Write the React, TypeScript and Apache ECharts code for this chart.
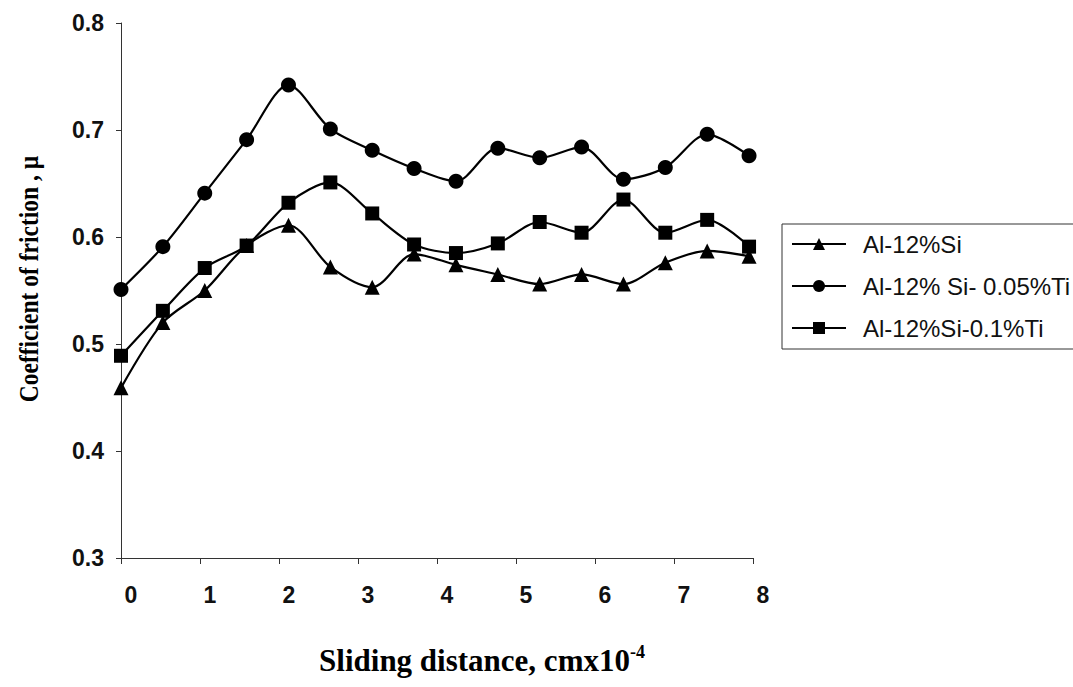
import React, { useEffect, useRef } from "react";
import * as echarts from "echarts";

const xValues = [0, 0.53, 1.06, 1.59, 2.12, 2.65, 3.18, 3.71, 4.24, 4.77, 5.3, 5.83, 6.36, 6.89, 7.42, 7.95];
const seriesNames = ["Al-12%Si", "Al-12% Si- 0.05%Ti", "Al-12%Si-0.1%Ti"];
const alSi = [0.459, 0.52, 0.55, 0.592, 0.611, 0.572, 0.553, 0.584, 0.574, 0.565, 0.556, 0.565, 0.556, 0.576, 0.587, 0.582];
const alSiTi005 = [0.551, 0.591, 0.641, 0.691, 0.742, 0.701, 0.681, 0.664, 0.652, 0.683, 0.674, 0.684, 0.654, 0.665, 0.696, 0.676];
const alSiTi01 = [0.489, 0.531, 0.571, 0.592, 0.632, 0.651, 0.622, 0.593, 0.585, 0.594, 0.614, 0.604, 0.635, 0.604, 0.616, 0.591];
const yTicks = [0.3, 0.4, 0.5, 0.6, 0.7, 0.8];
const xTicks = [0, 1, 2, 3, 4, 5, 6, 7, 8];

const yTitle = "Coefficient of friction , µ";
const xTitle = "Sliding distance, cmx10";
const xTitleSup = "-4";

export default function App() {
  const ref = useRef<HTMLDivElement>(null);
  useEffect(() => {
    if (!ref.current) return;
    const chart = echarts.init(ref.current, null, { renderer: "svg" });
    const pair = (ys: number[]) => ys.map((y, i) => [xValues[i], y]);
    const symbols = ["triangle", "circle", "rect"];
    const sizes = [15, 15, 14];
    const datasets = [alSi, alSiTi005, alSiTi01];
    chart.setOption({
      animation: false,
      backgroundColor: "#fff",
      grid: { left: 121, right: 320, top: 23, bottom: 129, containLabel: false },
      xAxis: {
        type: "value",
        min: xTicks[0],
        max: xTicks[xTicks.length - 1],
        interval: 1,
        axisLine: { show: true, lineStyle: { color: "#333", width: 1 } },
        axisTick: { show: true, length: 6, lineStyle: { color: "#333" } },
        splitLine: { show: false },
        axisLabel: {
          margin: 25,
          padding: [0, 0, 0, 20],
          fontFamily: "Liberation Sans, Arial, sans-serif",
          fontSize: 23,
          fontWeight: "bold",
          color: "#111",
        },
      },
      yAxis: {
        type: "value",
        min: yTicks[0],
        max: yTicks[yTicks.length - 1],
        interval: 0.1,
        axisLine: { show: true, lineStyle: { color: "#333", width: 1 } },
        axisTick: { show: true, length: 5, lineStyle: { color: "#333" } },
        splitLine: { show: false },
        axisLabel: {
          margin: 17,
          formatter: (v: number) => v.toFixed(1),
          fontFamily: "Liberation Sans, Arial, sans-serif",
          fontSize: 23,
          fontWeight: "bold",
          color: "#111",
        },
      },
      legend: {
        show: true,
        orient: "vertical",
        left: 782,
        top: 224,
        padding: [8, 60, 9, 9],
        itemGap: 18,
        itemWidth: 54,
        itemHeight: 15,
        borderColor: "#333",
        borderWidth: 1,
        textStyle: {
          fontFamily: "Liberation Sans, Arial, sans-serif",
          fontSize: 24,
          lineHeight: 22,
          color: "#111",
          padding: [0, 0, 0, 12],
        },
        data: seriesNames,
      },
      series: datasets.map((d, i) => ({
        name: seriesNames[i],
        type: "line",
        data: pair(d),
        smooth: 0.3,
        symbol: symbols[i],
        symbolSize: sizes[i],
        showSymbol: true,
        lineStyle: { color: "#000", width: 2.2 },
        itemStyle: { color: "#000" },
        z: 3 - i,
      })),
      graphic: [
        {
          type: "text",
          x: 28,
          y: 279,
          rotation: Math.PI / 2,
          scaleY: 1.15,
          style: {
            text: yTitle,
            fontFamily: "Liberation Serif, Times New Roman, serif",
            fontWeight: "bold",
            fontSize: 23.5,
            fill: "#000",
            align: "center",
            verticalAlign: "middle",
          },
        },
        {
          type: "text",
          x: 482,
          y: 660,
          style: {
            text: "{a|" + xTitle + "}{s|" + xTitleSup + "}",
            align: "center",
            verticalAlign: "middle",
            rich: {
              a: {
                fontFamily: "Liberation Serif, Times New Roman, serif",
                fontWeight: "bold",
                fontSize: 31,
                color: "#000",
              },
              s: {
                fontFamily: "Liberation Serif, Times New Roman, serif",
                fontWeight: "bold",
                fontSize: 18,
                color: "#000",
                verticalAlign: "top",
                padding: [0, 0, 16, 0],
              },
            },
          },
        },
      ],
    });
    return () => chart.dispose();
  }, []);
  return (
    <div
      ref={ref}
      style={{ position: "absolute", left: 0, top: 0, width: 1073, height: 687, background: "#fff" }}
    />
  );
}
